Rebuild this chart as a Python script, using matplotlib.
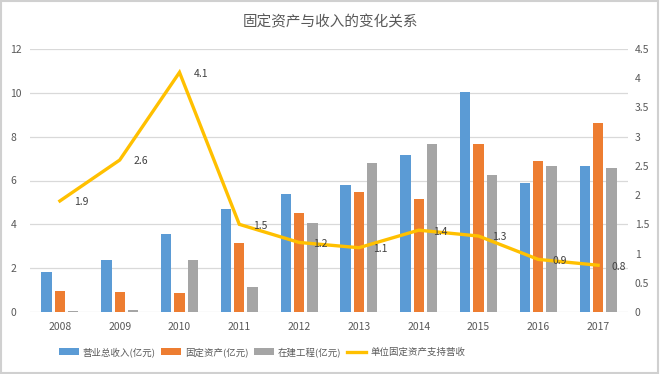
import numpy as np
import matplotlib
matplotlib.use('Agg')
import matplotlib.pyplot as plt
from matplotlib.patches import Rectangle

plt.rcParams['font.family'] = ['Noto Sans CJK SC', 'DejaVu Sans']

years = ['2008', '2009', '2010', '2011', '2012', '2013', '2014', '2015', '2016', '2017']
revenue = [1.82, 2.39, 3.58, 4.72, 5.38, 5.80, 7.17, 10.04, 5.90, 6.65]
fixed_assets = [0.94, 0.91, 0.88, 3.14, 4.53, 5.47, 5.17, 7.67, 6.90, 8.63]
construction = [0.05, 0.10, 2.39, 1.14, 4.05, 6.81, 7.67, 6.23, 6.65, 6.56]
ratio = [1.9, 2.6, 4.1, 1.5, 1.19, 1.1, 1.4, 1.3, 0.9, 0.8]
ratio_labels = ['1.9', '2.6', '4.1', '1.5', '1.2', '1.1', '1.4', '1.3', '0.9', '0.8']

series_names = ['营业总收入(亿元)', '固定资产(亿元)', '在建工程(亿元)', '单位固定资产支持营收']
colors = ['#5B9BD5', '#ED7D31', '#A5A5A5', '#FFC000']
text_color = '#595959'
grid_color = '#D9D9D9'

fig = plt.figure(figsize=(6.6, 3.74), dpi=100)
fig.patches.append(Rectangle((0.002, 0.003), 0.995, 0.994, transform=fig.transFigure,
                             fill=False, edgecolor='#D0D0D0', linewidth=1.5))
ax = fig.add_axes([30 / 660, 1 - 312 / 374, 598 / 660, 263 / 374])

x = np.arange(len(years))
width = 0.172
step = 0.222
bars = []
for i, (vals, c) in enumerate(zip([revenue, fixed_assets, construction], colors)):
    b = ax.bar(x + (i - 1) * step, vals, width, color=c, label=series_names[i], zorder=2)
    bars.append(b)

ax.set_xlim(-0.5, len(years) - 0.5)
ax.set_ylim(0, 12)
ax.set_yticks(np.arange(0, 13, 2))
ax.set_xticks(x)
ax.set_xticklabels(years)
ax.grid(axis='y', color=grid_color, linewidth=0.9, zorder=0)
for s in ax.spines.values():
    s.set_visible(False)
ax.tick_params(axis='both', length=0, colors=text_color, labelsize=7.5)
ax.tick_params(axis='y', pad=14)
ax.tick_params(axis='x', pad=7)
for lbl in ax.get_yticklabels():
    lbl.set_ha('left')

ax2 = ax.twinx()
ax2.set_ylim(0, 4.5)
ax2.set_yticks(np.arange(0, 4.6, 0.5))
ax2.set_yticklabels(['0', '0.5', '1', '1.5', '2', '2.5', '3', '3.5', '4', '4.5'])
for s in ax2.spines.values():
    s.set_visible(False)
ax2.tick_params(axis='y', length=0, colors=text_color, labelsize=7.5, pad=5)
line, = ax2.plot(x, ratio, color=colors[3], linewidth=2.4, label=series_names[3],
                 solid_joinstyle='miter', zorder=3)
for xi, yi, t in zip(x, ratio, ratio_labels):
    ax2.annotate(t, (xi, yi), xytext=(10, -1), textcoords='offset points',
                 ha='left', va='center', fontsize=7.5, color='#404040')

fig.text(0.5, 1 - 22 / 374, '固定资产与收入的变化关系', ha='center', va='center',
         fontsize=10.5, color=text_color)

handles = bars + [line]
leg = fig.legend(handles, series_names, loc='center', bbox_to_anchor=(262 / 660, 1 - 352 / 374),
                 ncol=4, frameon=False, fontsize=6.8, handlelength=2.1, handleheight=0.7,
                 handletextpad=0.4, columnspacing=0.6)
for t in leg.get_texts():
    t.set_color(text_color)

fig.savefig('out.png', dpi=100)
